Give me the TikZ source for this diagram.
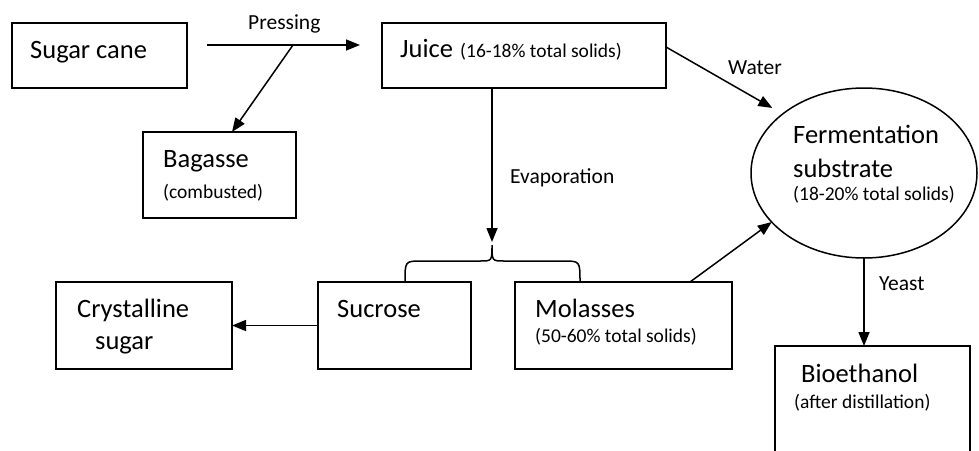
\documentclass[tikz,border=0pt]{standalone}
\usepackage{fontspec}
\setmainfont{Carlito}
\usetikzlibrary{arrows.meta,shapes.geometric}
\begin{document}
\begin{tikzpicture}[x=1pt,y=-1pt,
  box/.style={draw, line width=1.5pt, rectangle, inner sep=0pt, outer sep=0pt},
  big/.style={font=\fontsize{26.5}{30}\selectfont, inner sep=0pt, anchor=base west},
  mid/.style={font=\fontsize{21.5}{26}\selectfont, inner sep=0pt, anchor=base west},
  sml/.style={font=\fontsize{19.5}{24}\selectfont, inner sep=0pt, anchor=base west},
  arr/.style={draw, line width=1.5pt, -{Triangle[length=14pt,width=11pt]}},
  link/.style={draw, line width=1.5pt}
]
\useasboundingbox (0,0) rectangle (979,450);
\clip (0,0) rectangle (979,450);

% boxes
\node[box, minimum width=175pt, minimum height=65pt] (cane) at (99.5,55.5) {};
\node[box, minimum width=284pt, minimum height=65pt] (juice) at (524,55.5) {};
\node[box, minimum width=153pt, minimum height=86pt] (bag) at (219.5,175) {};
\node[box, minimum width=176pt, minimum height=87pt] (cry) at (144,325.5) {};
\node[box, minimum width=153pt, minimum height=87pt] (suc) at (394.5,325.5) {};
\node[box, minimum width=217pt, minimum height=87pt] (mol) at (623.5,325.5) {};
\node[box, minimum width=195pt, minimum height=134pt] (bio) at (872.5,413) {};
\node[draw, ellipse, line width=1.5pt, inner sep=0pt, outer sep=0pt,
      minimum width=226pt, minimum height=170pt] (ferm) at (864,173) {};

% texts
\node[big] (tcane) at (30,58) {Sugar cane};
\node[mid] (tpress) at (248,29) {Pressing};
\node[big] (tjuice) at (400,57) {Juice};
\node[sml] (tjuicesub) at (460,57) {(16-18\% total solids)};
\node[big] (tbag) at (163,167) {Bagasse};
\node[sml] (tcomb) at (163,198) {(combusted)};
\node[mid] (tevap) at (510,183) {Evaporation};
\node[mid] (twater) at (728,74) {Water};
\node[big] (tferm1) at (793,143) {Fermentation};
\node[big] (tferm2) at (793,177) {substrate};
\node[sml] (tferm3) at (793,200) {(18-20\% total solids)};
\node[mid] (tyeast) at (879,290) {Yeast};
\node[big] (tcry1) at (77,317) {Crystalline};
\node[big] (tcry2) at (95,349) {sugar};
\node[big] (tsuc) at (337,317) {Sucrose};
\node[big] (tmol) at (535,317) {Molasses};
\node[sml] (tmolsub) at (535,342) {(50-60\% total solids)};
\node[big] (tbio) at (801,382) {Bioethanol};
\node[sml] (tbiosub) at (794,408) {(after distillation)};

% pressing step and its bagasse branch
\coordinate (pfrom) at (207,45);
\coordinate (pto) at (360,45);
\coordinate (pfork) at (293,45);
\draw[arr] (pfrom) -- (pto);
\draw[arr] (pfork) -- ([xshift=12.5pt]bag.north);

% evaporation into the brace over sucrose and molasses
\coordinate (cusp) at (492,245);
\draw[arr, shorten >=3pt] (juice.south -| cusp) -- (cusp);
\draw[link] (405,282) .. controls (405,261) .. (422,261) -- (480,261)
  .. controls (492,261) .. (cusp) .. controls (492,261) .. (504,261)
  -- (563,261) .. controls (580,261) .. (580,282);

\draw[arr] (suc.west) -- (cry.east);

% feeds to the fermentation substrate
\draw[arr, shorten >=12pt] ([yshift=-24pt]juice.north east) -- (ferm.144);
\draw[arr] ([xshift=66.5pt]mol.north) -- (ferm.208);
\draw[arr] (ferm.south) -- (bio.north -| ferm.south);
\end{tikzpicture}
\end{document}
